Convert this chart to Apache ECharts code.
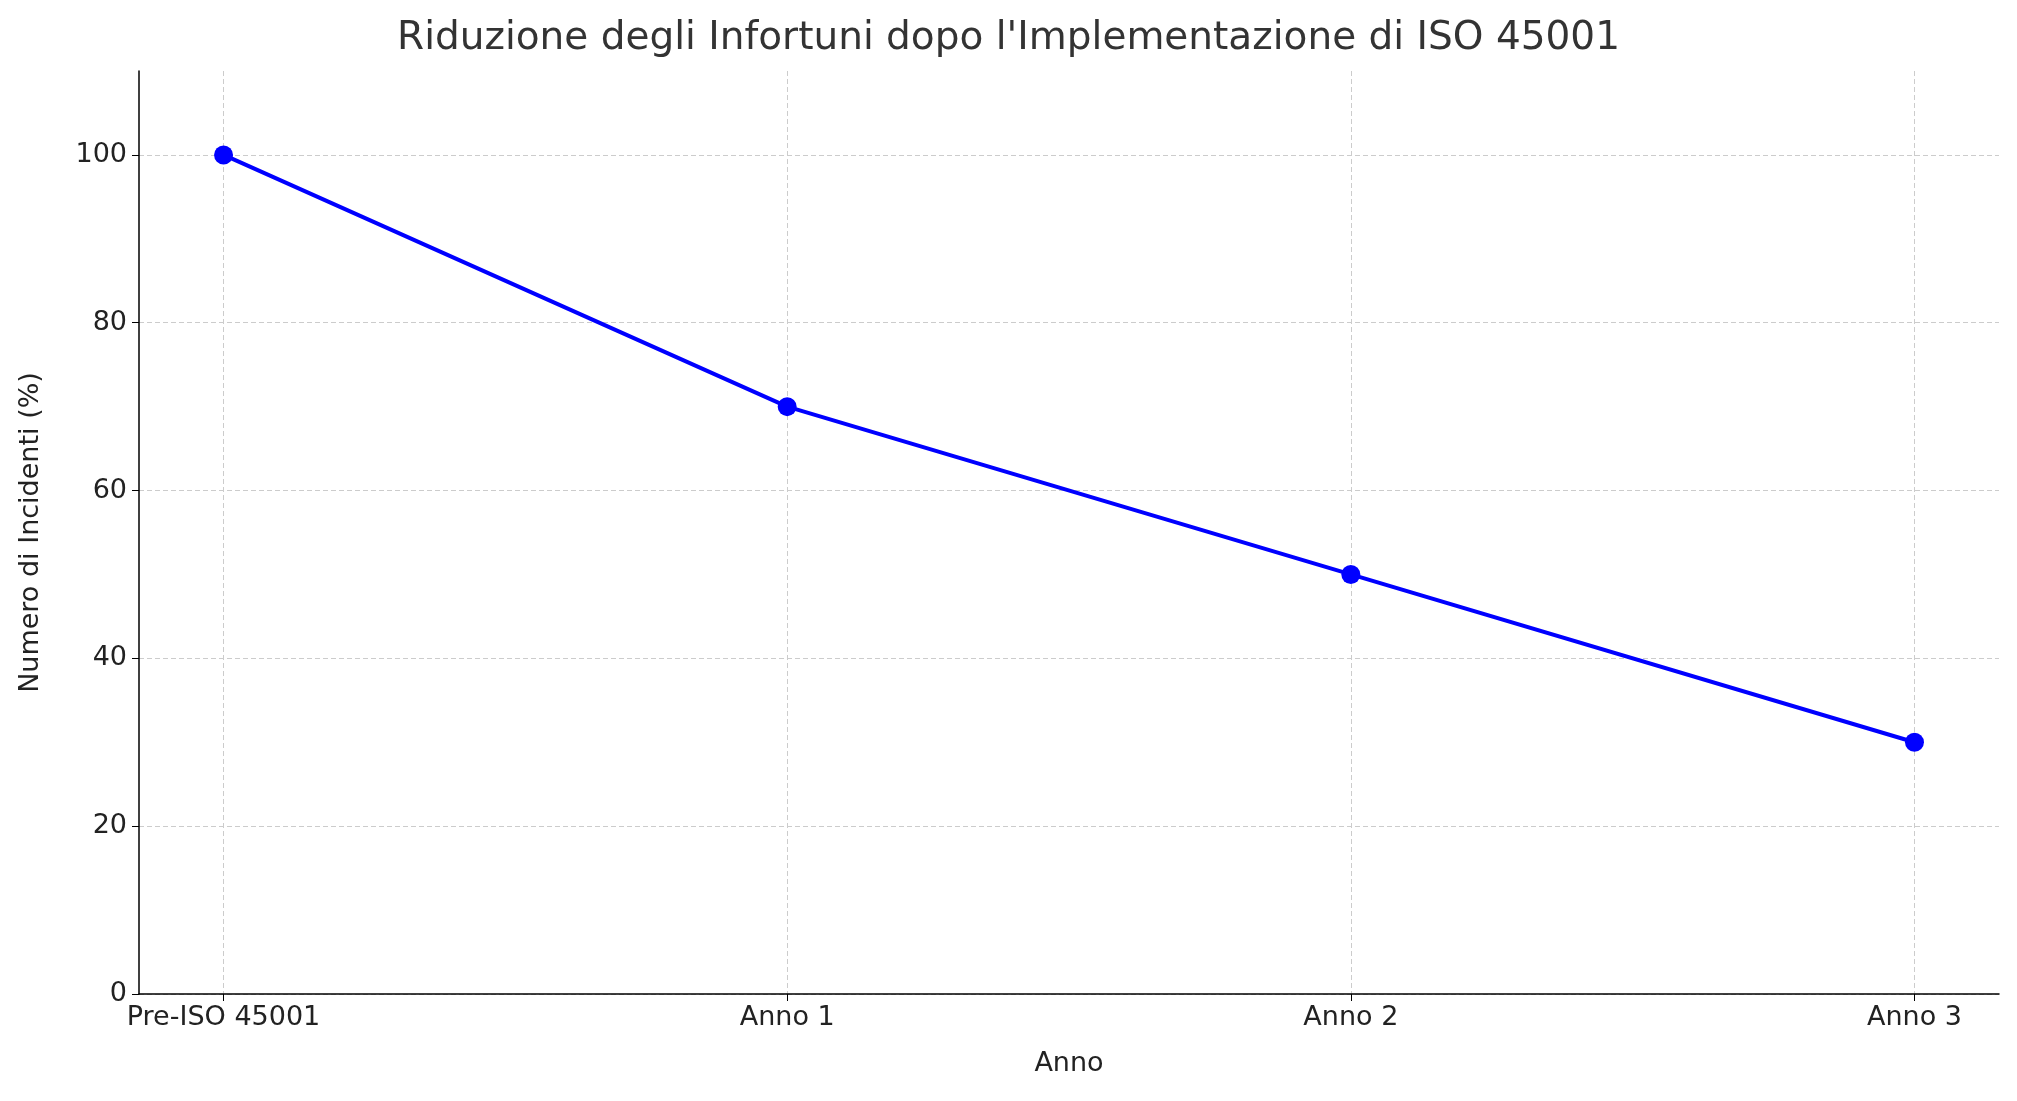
<!DOCTYPE html>
<html><head><meta charset="utf-8">
<script src="https://cdn.jsdelivr.net/npm/echarts@6/dist/echarts.min.js"></script>
<style>html,body{margin:0;padding:0;background:#fff}#c{width:2017px;height:1101px}</style>
</head><body><div id="c"></div>
<script>
const categories = ["Pre-ISO 45001","Anno 1","Anno 2","Anno 3"];
const values = [100, 70, 50, 30];
const yTicks = [0,20,40,60,80,100];
const chart = echarts.init(document.getElementById('c'));
const font = 'DejaVu Sans';
chart.setOption({
  animation:false,
  title:{text:"Riduzione degli Infortuni dopo l'Implementazione di ISO 45001",left:'center',top:14,
    textStyle:{fontFamily:font,fontSize:39,fontWeight:'normal',color:'#333'}},
  grid:{left:139,right:18,top:71,bottom:107},
  xAxis:{type:'value',min:-0.15,max:3.15,name:'Anno',nameLocation:'middle',nameGap:56,
    nameTextStyle:{fontFamily:font,fontSize:27,color:'#222'},
    axisLine:{show:true,onZero:false,lineStyle:{color:'#000',width:1.5}},
    axisTick:{show:true,customValues:[0,1,2,3],length:7,lineStyle:{color:'#000'}},
    axisLabel:{customValues:[0,1,2,3],formatter:v=>categories[Math.round(v)],fontFamily:font,fontSize:27,color:'#222',margin:10},
    splitLine:{show:true,customValues:[0,1,2,3],lineStyle:{color:'#ccc',type:[5,3]}}},
  yAxis:{type:'value',min:0,max:110,name:'Numero di Incidenti (%)',nameLocation:'middle',nameGap:95,
    nameTextStyle:{fontFamily:font,fontSize:27,color:'#222'},
    axisLine:{show:true,onZero:false,lineStyle:{color:'#000',width:1.5}},
    axisTick:{show:true,customValues:yTicks,length:7,lineStyle:{color:'#000'}},
    axisLabel:{customValues:yTicks,fontFamily:font,fontSize:27,color:'#222',margin:12},
    splitLine:{show:true,customValues:yTicks,lineStyle:{color:'#ccc',type:[5,3]}}},
  series:[{type:'line',data:values.map((v,i)=>[i,v]),symbol:'circle',symbolSize:19,
    lineStyle:{color:'#0000ff',width:4},itemStyle:{color:'#0000ff'}}]
});
</script></body></html>
